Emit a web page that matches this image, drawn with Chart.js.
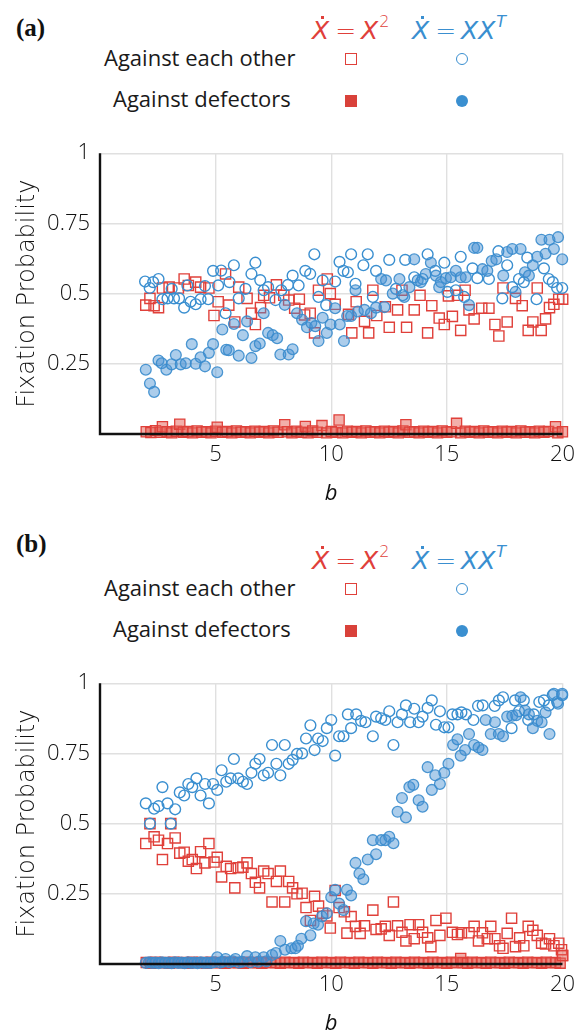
<!DOCTYPE html>
<html>
<head>
<meta charset="utf-8">
<script src="https://cdn.jsdelivr.net/npm/chart.js@4.4.1/dist/chart.umd.min.js"></script>
<style>
  html, body { margin: 0; padding: 0; background: #fff; overflow: hidden; }
  body { width: 583px; height: 1033px; position: relative; font-family: 'Open Sans', sans-serif; color: #1a1a1a; }
  .panel { position: absolute; left: 0; width: 583px; height: 530px; }
  .panel canvas { position: absolute; left: 0; top: 130px; }
  .tag { position: absolute; left: 16px; top: 14px; font: bold 25px 'Liberation Serif', serif; color: #111; }
  .eq { position: absolute; top: 8px; font-family: 'DejaVu Sans', sans-serif; font-size: 25px; font-weight: 200;
        line-height: 34px; white-space: nowrap; }
  .eq.red { left: 312px; color: #e0403a; }
  .eq.blue { left: 412px; color: #3a8fd0; }
  .eq i, .eq .dx { font-style: italic; }
  .eq .op { margin: 0 5px 0 6px; }
  .eq sup { font-size: 16px; position: relative; top: -3px; margin-left: 1px; }
  .eq .dx { position: relative; }
  .eq .dx::before { content: ''; position: absolute; left: 9px; top: 0; width: 3px; height: 3px; background: currentColor; }
  .row { position: absolute; font-size: 22px; line-height: 30px; white-space: nowrap; }
  .sym { position: absolute; box-sizing: border-box; }
</style>
</head>
<body>

<div class="panel" style="top:0">
  <div class="tag">(a)</div>
  <div class="eq red"><span class="dx">X</span><span class="op">=</span><i>X</i><sup>2</sup></div>
  <div class="eq blue"><span class="dx">X</span><span class="op">=</span><i>XX</i><sup><i>T</i></sup></div>
  <div class="row" style="left:104px; top:42px">Against each other</div>
  <div class="row" style="left:113px; top:83px">Against defectors</div>
  <div class="sym" style="left:345px; top:53px; width:12px; height:12px; border:1.5px solid #e0403a"></div>
  <div class="sym" style="left:456px; top:53px; width:12px; height:12px; border:1.5px solid #3a8fd0; border-radius:50%"></div>
  <div class="sym" style="left:345px; top:95px; width:12px; height:12px; background:#d9413a"></div>
  <div class="sym" style="left:456px; top:95px; width:12px; height:12px; background:#3a8fd0; border-radius:50%"></div>
  <canvas id="chartA" width="583" height="380"></canvas>
</div>

<div class="panel" style="top:530px">
  <div class="tag" style="top:0">(b)</div>
  <div class="eq red"><span class="dx">X</span><span class="op">=</span><i>X</i><sup>2</sup></div>
  <div class="eq blue"><span class="dx">X</span><span class="op">=</span><i>XX</i><sup><i>T</i></sup></div>
  <div class="row" style="left:104px; top:42px">Against each other</div>
  <div class="row" style="left:113px; top:83px">Against defectors</div>
  <div class="sym" style="left:345px; top:53px; width:12px; height:12px; border:1.5px solid #e0403a"></div>
  <div class="sym" style="left:456px; top:53px; width:12px; height:12px; border:1.5px solid #3a8fd0; border-radius:50%"></div>
  <div class="sym" style="left:345px; top:95px; width:12px; height:12px; background:#d9413a"></div>
  <div class="sym" style="left:456px; top:95px; width:12px; height:12px; background:#3a8fd0; border-radius:50%"></div>
  <canvas id="chartB" width="583" height="380"></canvas>
</div>

<script>
// ---- axes ----
const xTicks = [5, 10, 15, 20];
const yTicks = [0.25, 0.5, 0.75, 1];

// ---- panel (a): [b, fixation probability] ----
const aEachSq = [
  [1.98,.459],[2.16,.483],[2.34,.457],[2.53,.45],[2.7,.52],[2.99,.523],[3.39,.52],[3.64,.552],[3.82,.529],
  [4.14,.541],[4.35,.523],[4.71,.52],[4.93,.422],[5.11,.471],[5.43,.57],[5.57,.459],[5.83,.399],[6.0,.523],
  [6.36,.483],[6.55,.43],[6.72,.39],[6.94,.45],[7.08,.494],[7.33,.485],[7.63,.531],[7.95,.494],[8.16,.477],
  [8.42,.448],[8.62,.48],[8.85,.424],[9.09,.43],[9.28,.36],[9.45,.512],[9.83,.552],[9.96,.5],[10.17,.462],
  [10.75,.426],[10.89,.36],[11.08,.471],[11.44,.401],[11.62,.36],[11.8,.512],[11.97,.422],[12.34,.453],
  [12.51,.38],[12.87,.442],[13.06,.512],[13.26,.38],[13.59,.442],[13.84,.494],[14.17,.36],[14.35,.457],
  [14.67,.413],[14.89,.39],[15.07,.492],[15.24,.419],[15.46,.494],[15.6,.369],[15.79,.512],[15.96,.442],
  [16.18,.41],[16.51,.448],[16.82,.448],[17.08,.39],[17.25,.349],[17.43,.52],[17.61,.399],[17.97,.483],
  [18.26,.457],[18.52,.369],[18.72,.399],[18.91,.52],[19.08,.369],[19.27,.41],[19.44,.45],[19.63,.462],
  [19.84,.48],[20.01,.48]
];
const aEachCi = [
  [1.95,.543],[2.15,.52],[2.3,.541],[2.53,.552],[2.7,.48],[2.92,.483],[3.1,.517],[3.2,.483],[3.42,.483],
  [3.64,.45],[3.78,.529],[3.92,.471],[4.14,.462],[4.35,.48],[4.54,.527],[4.68,.48],[4.89,.581],[5.11,.529],
  [5.24,.582],[5.43,.43],[5.6,.541],[5.79,.601],[6.0,.483],[6.29,.517],[6.55,.57],[6.72,.61],[6.93,.548],
  [7.08,.512],[7.27,.523],[7.59,.477],[7.84,.512],[8.13,.531],[8.33,.564],[8.59,.529],[8.88,.581],[9.09,.57],
  [9.27,.64],[9.45,.488],[9.63,.547],[9.78,.459],[10.17,.543],[10.36,.613],[10.53,.581],[10.72,.576],
  [10.86,.64],[11.05,.535],[11.39,.601],[11.58,.64],[11.8,.488],[11.94,.581],[12.51,.62],[12.8,.517],
  [13.09,.494],[13.2,.62],[13.59,.558],[13.95,.552],[14.17,.64],[14.5,.581],[14.89,.61],[15.03,.506],
  [15.39,.512],[15.6,.631],[15.75,.488],[16.11,.59],[16.32,.555],[16.82,.552],[17.23,.651],[17.4,.483],
  [17.61,.601],[17.83,.523],[18.12,.552],[18.33,.541],[18.48,.628],[18.88,.48],[19.2,.59],[19.41,.552],
  [19.58,.541],[19.77,.52],[19.99,.52]
];
const aDefSq = [
  [2.0,.008],[2.2,.005],[2.4,.012],[2.6,.006],[2.7,.026],[2.9,.008],[3.1,.004],[3.3,.01],[3.45,.035],
  [3.6,.006],[3.8,.009],[4.0,.004],[4.2,.011],[4.4,.006],[4.6,.008],[4.8,.004],[5.0,.01],[5.07,.024],
  [5.3,.006],[5.5,.009],[5.7,.004],[5.9,.011],[6.1,.006],[6.3,.008],[6.5,.004],[6.7,.01],[6.9,.006],
  [7.1,.009],[7.3,.004],[7.5,.011],[7.7,.006],[7.99,.033],[8.1,.008],[8.3,.004],[8.5,.01],[8.7,.006],
  [8.88,.027],[9.0,.004],[9.2,.011],[9.4,.006],[9.6,.03],[9.8,.004],[10.0,.009],[10.2,.006],[10.34,.05],
  [10.5,.004],[10.7,.01],[10.9,.006],[11.1,.009],[11.3,.004],[11.5,.011],[11.7,.006],[11.9,.008],[12.1,.004],
  [12.3,.01],[12.5,.006],[12.7,.009],[12.9,.004],[13.1,.011],[13.23,.033],[13.4,.006],[13.6,.008],[13.8,.004],
  [14.0,.01],[14.2,.006],[14.4,.009],[14.6,.004],[14.8,.011],[15.0,.006],[15.2,.008],[15.42,.038],[15.6,.004],
  [15.8,.01],[16.0,.006],[16.2,.009],[16.4,.004],[16.6,.011],[16.8,.006],[17.0,.008],[17.2,.004],[17.4,.01],
  [17.6,.006],[17.8,.009],[18.0,.004],[18.2,.011],[18.4,.006],[18.6,.008],[18.8,.004],[19.0,.01],[19.2,.006],
  [19.4,.009],[19.7,.026],[19.8,.004],[20.0,.008]
];
const aDefCi = [
  [1.98,.229],[2.16,.18],[2.34,.15],[2.53,.262],[2.67,.252],[2.87,.229],[3.1,.248],[3.28,.281],[3.49,.248],
  [3.71,.252],[3.97,.32],[4.14,.25],[4.35,.273],[4.54,.241],[4.71,.289],[4.89,.32],[5.07,.22],[5.29,.372],
  [5.46,.3],[5.57,.298],[5.79,.392],[6.0,.279],[6.18,.352],[6.36,.401],[6.55,.271],[6.72,.313],[6.91,.322],
  [7.08,.43],[7.27,.36],[7.47,.352],[7.66,.341],[7.8,.283],[7.99,.46],[8.16,.283],[8.33,.302],[8.52,.43],
  [8.74,.407],[8.95,.38],[9.14,.395],[9.31,.384],[9.45,.331],[9.63,.414],[9.81,.36],[9.97,.39],[10.17,.448],
  [10.37,.39],[10.55,.331],[10.69,.42],[10.86,.42],[11.05,.512],[11.15,.436],[11.44,.442],[11.72,.43],
  [11.94,.45],[12.16,.552],[12.3,.452],[12.37,.547],[12.66,.5],[12.95,.552],[13.16,.488],[13.38,.523],
  [13.59,.622],[13.74,.547],[13.88,.541],[14.09,.57],[14.31,.61],[14.53,.564],[14.67,.523],[14.74,.541],
  [14.96,.555],[15.17,.558],[15.39,.581],[15.6,.558],[15.82,.558],[15.96,.459],[16.18,.663],[16.32,.663],
  [16.54,.587],[16.75,.581],[16.94,.616],[17.14,.622],[17.44,.564],[17.61,.648],[17.83,.659],[17.97,.506],
  [18.19,.659],[18.38,.576],[18.55,.564],[18.72,.601],[18.91,.631],[19.09,.692],[19.27,.642],[19.44,.692],
  [19.63,.659],[19.81,.701],[19.99,.622]
];

// ---- panel (b): [b, fixation probability] ----
const bEachSq = [
  [1.98,.429],[2.16,.5],[2.34,.453],[2.53,.441],[2.7,.372],[2.92,.429],[3.06,.5],[3.25,.449],[3.45,.395],
  [3.64,.398],[3.82,.366],[3.99,.372],[4.17,.34],[4.35,.4],[4.54,.36],[4.71,.429],[4.93,.363],[5.07,.38],
  [5.26,.31],[5.46,.348],[5.65,.34],[5.83,.271],[5.98,.343],[6.18,.345],[6.36,.36],[6.55,.322],[6.72,.291],
  [6.9,.271],[7.08,.331],[7.27,.322],[7.44,.221],[7.63,.294],[7.8,.331],[7.99,.221],[8.16,.294],[8.33,.271],
  [8.52,.25],[8.74,.252],[8.91,.201],[9.1,.155],[9.28,.241],[9.45,.206],[9.63,.181],[9.81,.171],[9.96,.128],
  [10.17,.262],[10.34,.201],[10.57,.186],[10.68,.11],[10.86,.169],[11.05,.134],[11.25,.109],[11.44,.136],
  [11.8,.192],[11.94,.123],[12.16,.125],[12.34,.134],[12.51,.102],[12.69,.221],[12.87,.136],[13.06,.113],
  [13.23,.082],[13.41,.14],[13.59,.09],[13.78,.14],[13.95,.113],[14.17,.093],[14.31,.062],[14.53,.155],
  [14.7,.102],[14.96,.163],[15.24,.113],[15.46,.105],[15.63,.111],[15.96,.111],[16.18,.134],[16.37,.082],
  [16.54,.111],[16.75,.09],[16.9,.134],[17.08,.09],[17.28,.065],[17.43,.056],[17.61,.109],[17.8,.163],
  [17.97,.062],[18.15,.093],[18.33,.065],[18.52,.134],[18.72,.12],[18.91,.102],[19.1,.074],[19.27,.071],
  [19.44,.09],[19.63,.065],[19.84,.074],[19.96,.051],[20.01,.03]
];
const bEachCi = [
  [1.98,.572],[2.16,.5],[2.34,.553],[2.53,.562],[2.7,.63],[2.92,.572],[3.06,.5],[3.25,.551],[3.45,.611],
  [3.64,.6],[3.82,.641],[3.99,.63],[4.17,.661],[4.35,.6],[4.54,.641],[4.71,.572],[4.89,.641],[5.07,.62],
  [5.26,.69],[5.46,.649],[5.65,.661],[5.79,.73],[5.98,.661],[6.18,.649],[6.36,.641],[6.55,.681],[6.72,.713],
  [6.9,.73],[7.08,.672],[7.27,.681],[7.44,.78],[7.63,.713],[7.8,.672],[7.99,.78],[8.16,.713],[8.33,.727],
  [8.52,.748],[8.74,.75],[8.91,.803],[9.1,.85],[9.28,.762],[9.43,.803],[9.63,.794],[9.81,.84],[10.0,.869],
  [10.17,.742],[10.34,.811],[10.53,.811],[10.72,.889],[10.86,.84],[11.08,.889],[11.29,.866],[11.48,.861],
  [11.8,.811],[11.94,.881],[12.16,.875],[12.34,.869],[12.51,.9],[12.69,.78],[12.87,.861],[13.06,.889],
  [13.23,.921],[13.41,.861],[13.59,.909],[13.78,.861],[13.95,.881],[14.17,.912],[14.35,.939],[14.53,.852],
  [14.7,.9],[14.89,.843],[15.07,.843],[15.24,.889],[15.46,.889],[15.63,.896],[15.83,.889],[16.15,.869],
  [16.35,.919],[16.55,.921],[17.07,.919],[17.25,.939],[17.43,.95],[17.8,.84],[17.95,.939],[18.12,.9],
  [18.33,.939],[18.52,.869],[18.76,.889],[19.0,.933],[19.2,.939],[19.41,.921],[19.58,.958],[19.77,.933],
  [19.99,.957]
];
const bDefSq = [
  [2.0,.005],[2.2,.003],[2.4,.006],[2.6,.004],[2.8,.005],[3.0,.003],[3.2,.006],[3.4,.004],[3.6,.005],
  [3.8,.003],[4.0,.006],[4.2,.004],[4.4,.005],[4.6,.003],[4.8,.006],[5.0,.004],[5.2,.005],[5.4,.003],
  [5.6,.006],[5.8,.004],[6.0,.005],[6.2,.003],[6.4,.006],[6.6,.004],[6.8,.005],[7.0,.003],[7.2,.006],
  [7.4,.004],[7.6,.005],[7.8,.003],[8.0,.006],[8.2,.004],[8.4,.005],[8.6,.003],[8.8,.006],[9.0,.004],
  [9.2,.005],[9.4,.003],[9.6,.006],[9.8,.004],[10.0,.005],[10.2,.003],[10.4,.006],[10.6,.004],[10.8,.005],
  [11.0,.003],[11.2,.006],[11.4,.004],[11.6,.005],[11.8,.003],[12.0,.006],[12.2,.004],[12.4,.005],[12.6,.003],
  [12.8,.006],[13.0,.004],[13.2,.005],[13.4,.003],[13.6,.006],[13.8,.004],[14.0,.005],[14.2,.003],[14.4,.006],
  [14.6,.004],[14.8,.005],[15.0,.003],[15.2,.006],[15.4,.004],[15.6,.02],[15.7,.005],[15.9,.003],[16.1,.006],
  [16.3,.004],[16.5,.005],[16.7,.003],[16.9,.006],[17.1,.004],[17.3,.005],[17.5,.003],[17.7,.006],[17.9,.004],
  [18.1,.005],[18.3,.003],[18.5,.006],[18.7,.004],[18.9,.005],[19.1,.003],[19.3,.006],[19.5,.004],[19.7,.005],
  [19.9,.003],[20.0,.03],[20.02,.045]
];
const bDefCi = [
  [1.98,.004],[2.12,.006],[2.26,.004],[2.4,.005],[2.54,.003],[2.68,.006],[2.82,.004],[2.96,.005],[3.1,.003],
  [3.24,.006],[3.38,.004],[3.52,.005],[3.66,.003],[3.8,.006],[3.94,.004],[4.08,.005],[4.22,.003],[4.36,.006],
  [4.5,.004],[4.64,.005],[4.78,.004],[4.92,.006],[5.07,.024],[5.2,.005],[5.32,.008],[5.43,.018],[5.6,.006],
  [5.75,.01],[5.86,.018],[6.0,.005],[6.15,.008],[6.36,.028],[6.5,.006],[6.72,.024],[6.85,.008],[7.08,.024],
  [7.2,.01],[7.44,.032],[7.61,.039],[7.8,.082],[8.0,.051],[8.28,.056],[8.45,.056],[8.56,.065],[8.71,.09],
  [8.91,.152],[9.1,.102],[9.24,.144],[9.43,.14],[9.6,.169],[9.81,.181],[10.0,.238],[10.17,.264],[10.34,.215],
  [10.53,.192],[10.68,.264],[10.86,.244],[11.05,.36],[11.22,.322],[11.39,.302],[11.58,.372],[11.8,.441],
  [11.94,.391],[12.16,.441],[12.34,.441],[12.51,.453],[12.69,.43],[12.87,.542],[13.06,.591],[13.23,.522],
  [13.38,.63],[13.55,.638],[13.78,.583],[13.95,.56],[14.17,.701],[14.35,.62],[14.5,.672],[14.7,.641],
  [14.89,.681],[15.07,.713],[15.27,.78],[15.46,.8],[15.6,.742],[15.79,.762],[15.96,.819],[16.18,.78],
  [16.37,.771],[16.54,.762],[16.68,.869],[16.9,.819],[17.08,.861],[17.25,.819],[17.43,.811],[17.61,.881],
  [17.83,.884],[18.0,.886],[18.19,.95],[18.38,.903],[18.55,.889],[18.72,.84],[18.91,.866],[19.1,.861],
  [19.27,.896],[19.44,.819],[19.63,.962],[19.81,.927],[19.99,.962]
];

const RED = '#e0403a';
const BLUE = '#3a8fd0';
const pts = arr => arr.map(([x, y]) => ({ x, y }));

// black axis lines go over the markers sitting on zero
const axisLines = {
  id: 'axisLines',
  afterDatasetsDraw(chart) {
    const { ctx, chartArea: a } = chart;
    ctx.save();
    ctx.strokeStyle = '#111';
    ctx.lineWidth = 2.4;
    ctx.beginPath();
    ctx.moveTo(a.left, a.top);
    ctx.lineTo(a.left, a.bottom);
    ctx.lineTo(a.right, a.bottom);
    ctx.stroke();
    ctx.restore();
  }
};

function makeChart(id, eachSq, eachCi, defSq, defCi) {
  const tickFont = { family: 'Open Sans', size: 22, weight: 300 };
  return new Chart(document.getElementById(id), {
    type: 'scatter',
    data: {
      datasets: [
        { label: 'defectors XX^T', data: pts(defCi), order: 0, clip: false,
          pointStyle: 'circle', pointRadius: 5.4, borderWidth: 1.3,
          backgroundColor: 'rgba(70,145,210,0.45)', borderColor: 'rgba(58,140,205,0.9)' },
        { label: 'defectors X^2', data: pts(defSq), order: 1, clip: false,
          pointStyle: 'rect', pointRadius: 7.2, borderWidth: 1.3,
          backgroundColor: 'rgba(230,95,85,0.5)', borderColor: RED },
        { label: 'each other XX^T', data: pts(eachCi), order: 2, clip: false,
          pointStyle: 'circle', pointRadius: 5.4, borderWidth: 1.4,
          backgroundColor: 'rgba(0,0,0,0)', borderColor: BLUE },
        { label: 'each other X^2', data: pts(eachSq), order: 3, clip: false,
          pointStyle: 'rect', pointRadius: 7.2, borderWidth: 1.4,
          backgroundColor: 'rgba(0,0,0,0)', borderColor: RED }
      ]
    },
    options: {
      responsive: false,
      animation: false,
      layout: { padding: { top: 17, right: 18, left: 0, bottom: 0 } },
      plugins: { legend: { display: false }, tooltip: { enabled: false } },
      elements: { point: { hoverRadius: 0 } },
      scales: {
        x: {
          type: 'linear', min: 0, max: 20,
          afterFit: s => { s.height = 76; },
          border: { display: false },
          grid: { color: '#e0e0e0', lineWidth: 1.4, drawTicks: false },
          ticks: { stepSize: 5, padding: 8, color: '#111', font: tickFont, maxRotation: 0,
                   callback: v => xTicks.includes(v) ? String(v) : '' },
          title: { display: true, text: 'b', color: '#111',
                   font: { family: 'Open Sans', size: 22, style: 'italic' }, padding: { top: 0, bottom: 3 } }
        },
        y: {
          type: 'linear', min: 0, max: 1,
          afterFit: s => { s.width = 100; },
          border: { display: false },
          grid: { color: '#e0e0e0', lineWidth: 1.4, drawTicks: false },
          ticks: { stepSize: 0.25, padding: 10, color: '#111', font: tickFont,
                   callback: v => yTicks.includes(v) ? String(v) : '' },
          title: { display: true, text: 'Fixation Probability', color: '#111',
                   font: { family: 'DejaVu Sans', size: 24, weight: 200 }, padding: { top: 13, bottom: 0 } }
        }
      }
    },
    plugins: [axisLines]
  });
}

makeChart('chartA', aEachSq, aEachCi, aDefSq, aDefCi);
makeChart('chartB', bEachSq, bEachCi, bDefSq, bDefCi);
</script>
</body>
</html>
